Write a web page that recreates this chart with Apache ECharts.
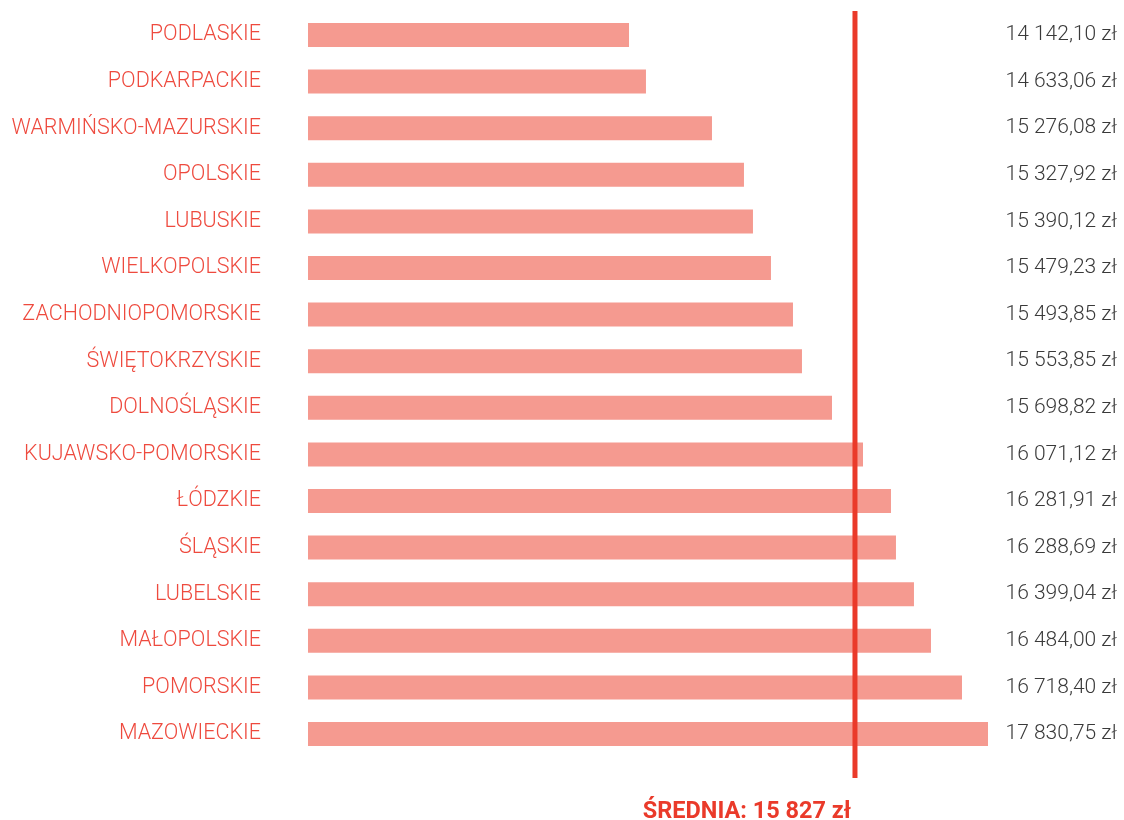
<!DOCTYPE html>
<html>
<head>
<meta charset="utf-8">
<script src="https://cdn.jsdelivr.net/npm/echarts@6/dist/echarts.min.js"></script>
<style>
html,body{margin:0;padding:0;background:#fff;}
#chart{width:1124px;height:820px;}
</style>
</head>
<body>
<div id="chart"></div>
<script>
// Regions (top to bottom)
const categories = ['PODLASKIE','PODKARPACKIE','WARMIŃSKO-MAZURSKIE','OPOLSKIE','LUBUSKIE','WIELKOPOLSKIE','ZACHODNIOPOMORSKIE','ŚWIĘTOKRZYSKIE','DOLNOŚLĄSKIE','KUJAWSKO-POMORSKIE','ŁÓDZKIE','ŚLĄSKIE','LUBELSKIE','MAŁOPOLSKIE','POMORSKIE','MAZOWIECKIE'];
// Printed values (zł)
const values = [14142.10,14633.06,15276.08,15327.92,15390.12,15479.23,15493.85,15553.85,15698.82,16071.12,16281.91,16288.69,16399.04,16484.00,16718.40,17830.75];
// Bar lengths as drawn in the picture, read on the axis calibrated by the average line (zł)
const barLengths = [12387,12645,13650,14137,14274,14548,14883,15020,15477,15949,16375,16451,16725,16984,17456,17852];
const average = 15827;
const axisMin = 7500;
const axisMax = 17852;

function fmt(v){
  const parts = v.toFixed(2).split('.');
  const intPart = parts[0].replace(/\B(?=(\d{3})+(?!\d))/g, ' ');
  return intPart + ',' + parts[1] + ' zł';
}
function fmtInt(v){
  return String(Math.round(v)).replace(/\B(?=(\d{3})+(?!\d))/g, ' ') + ' zł';
}
const valueLabels = values.map(fmt);

const chart = echarts.init(document.getElementById('chart'));
chart.setOption({
  animation: false,
  backgroundColor: '#ffffff',
  grid: [
    {left: 308, right: 136, top: 11.7, bottom: 820 - 757.3, containLabel: false},
    {left: 308, right: 136, top: 11, bottom: 42, containLabel: false}
  ],
  xAxis: [
    {type: 'value', gridIndex: 0, min: axisMin, max: axisMax, show: false},
    {type: 'value', gridIndex: 1, min: axisMin, max: axisMax, show: false}
  ],
  yAxis: [
    {type: 'category', gridIndex: 0, data: categories, inverse: true,
     axisLine: {show: false}, axisTick: {show: false}, splitLine: {show: false},
     axisLabel: {margin: 47, color: '#ee4a3e', fontFamily: 'Roboto', fontWeight: 300, fontSize: 21.5, verticalAlign: 'middle', padding: [0,0,5,0]}},
    {type: 'category', gridIndex: 0, position: 'right', data: valueLabels, inverse: true,
     axisLine: {show: false}, axisTick: {show: false}, splitLine: {show: false},
     axisLabel: {margin: 129, align: 'right', color: '#3a3a3a', fontFamily: 'Roboto', fontWeight: 300, fontSize: 21, padding: [3,0,0,0]}},
    {type: 'value', gridIndex: 1, min: 0, max: 1, show: false}
  ],
  series: [
    {type: 'bar', xAxisIndex: 0, yAxisIndex: 0, data: barLengths, barWidth: 24,
     itemStyle: {color: '#f59a90'}, silent: true},
    {type: 'line', xAxisIndex: 1, yAxisIndex: 2, symbol: 'none', silent: true, z: 5,
     lineStyle: {color: '#ea3a2a', width: 5},
     data: [[average, 0], [average, 1]]},
    {type: 'scatter', xAxisIndex: 1, yAxisIndex: 2, symbolSize: 1, silent: true, z: 6,
     itemStyle: {color: 'rgba(255,255,255,0)', opacity: 1},
     label: {show: true, position: 'bottom', align: 'right', distance: 22, offset: [-4, 0],
       formatter: 'ŚREDNIA: ' + fmtInt(average), color: '#ea3a2a', opacity: 1, fontFamily: 'Roboto', fontWeight: 'bold', fontSize: 23.5},
     data: [[average, 0]]}
  ]
});
</script>
</body>
</html>
